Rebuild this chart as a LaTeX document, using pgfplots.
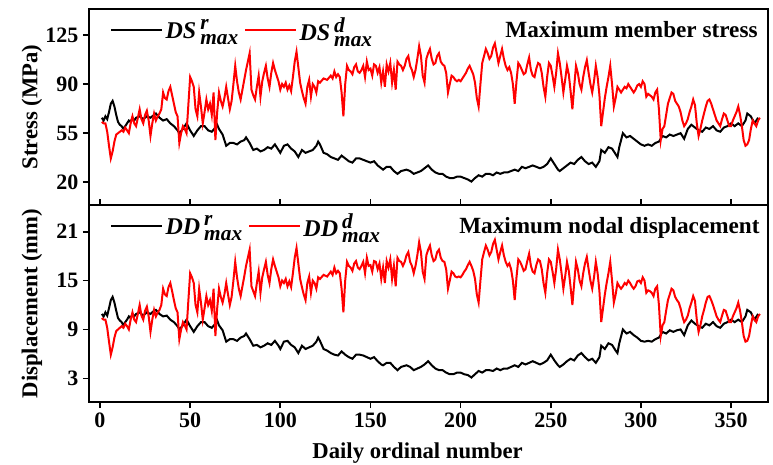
\documentclass[border=0pt]{standalone}
\usepackage{pgfplots}
\pgfplotsset{compat=1.18}
\usepackage{pgfplotstable}
\usepackage{amsmath}
\usepackage{fontspec}
\setmainfont{Liberation Serif}

% r-series: day, stress (MPa), displacement (mm)
\pgfplotstableread{
day s d
1 66 10.9
2 64 10.6
3 67 11.1
4 65 10.7
5 70 11.6
6 76 12.6
7 78 13.0
8 74 12.3
9 68 11.3
10 63 10.4
11 61 10.1
12 60 9.9
13 58 9.5
14 60 9.9
15 62 10.2
16 64 10.6
17 63 10.4
18 66 10.9
19 64 10.6
20 66 10.9
22 67 11.1
24 65 10.7
26 67 11.1
28 66 10.9
30 68 11.3
31 69 11.4
33 66 10.9
35 64 10.6
37 65 10.7
39 62 10.2
41 60 9.9
43 57 9.4
44 55 9.0
46 58 9.5
48 62 10.2
50 57 9.4
52 53 8.7
54 57 9.4
56 60 9.9
58 60 9.9
60 57 9.4
62 56 9.2
64 59 9.7
65 61 10.1
66 58 9.5
68 54 8.9
70 46 7.5
72 48 7.8
74 48 7.8
76 47 7.6
78 49 8.0
80 50 8.2
81 52 8.5
83 48 7.8
85 43 7.0
87 44 7.1
89 42 6.8
91 43 7.0
93 45 7.3
95 44 7.1
97 47 7.6
99 43 7.0
100 41 6.6
102 46 7.5
104 47 7.6
106 44 7.1
108 42 6.8
110 38 6.1
112 43 7.0
114 41 6.6
116 42 6.8
118 43 7.0
120 46 7.5
121 49 8.0
122 47 7.6
124 41 6.6
126 40 6.4
128 38 6.1
130 37 5.9
132 36 5.8
134 39 6.3
136 37 5.9
138 35 5.6
140 34 5.4
142 37 5.9
144 37 5.9
146 36 5.8
148 35 5.6
150 34 5.4
152 35 5.6
154 32 5.1
156 30 4.7
157 29 4.6
159 31 4.9
161 31 4.9
163 28 4.4
165 26 4.0
167 28 4.4
170 29 4.6
172 28 4.4
174 26 4.0
176 27 4.2
178 28 4.4
180 30 4.7
182 32 5.1
184 29 4.6
186 27 4.2
188 26 4.0
190 26 4.0
192 24 3.7
194 23 3.5
196 23 3.5
198 24 3.7
200 24 3.7
202 23 3.5
204 22 3.4
206 20.5 3.1
208 23 3.5
210 25 3.9
212 24 3.7
214 26 4.0
216 26 4.0
218 25 3.9
220 27 4.2
222 26 4.0
224 27 4.2
226 27 4.2
228 28 4.4
230 29 4.6
232 28 4.4
234 31 4.9
236 30 4.7
238 31 4.9
240 32 5.1
242 31 4.9
244 30 4.7
246 31 4.9
248 33 5.2
250 37 5.9
252 33 5.2
254 29 4.6
255 28 4.4
257 30 4.7
259 32 5.1
261 34 5.4
263 33 5.2
265 36 5.8
267 38 6.1
269 35 5.6
271 33 5.2
273 34 5.4
275 31 4.9
277 35 5.6
278 43 7.0
280 41 6.6
282 45 7.3
284 44 7.1
286 40 6.4
287 38 6.1
288 45 7.3
290 55 9.0
292 52 8.5
294 53 8.7
296 51 8.3
298 49 8.0
300 47 7.6
302 46 7.5
304 47 7.6
306 46 7.5
308 48 7.8
310 49 8.0
312 53 8.7
314 52 8.5
316 54 8.9
318 53 8.7
320 54 8.9
322 55 9.0
324 51 8.3
326 58 9.5
328 61 10.1
330 59 9.7
332 57 9.4
334 56 9.2
336 59 9.7
338 58 9.5
340 60 9.9
342 57 9.4
344 56 9.2
346 59 9.7
348 60 9.9
350 62 10.2
352 60 9.9
354 62 10.2
356 60 9.9
358 64 10.6
359 69 11.4
361 67 11.1
363 62 10.2
365 66 10.9
}\rtab

% d-series: day, stress (MPa), displacement (mm)
\pgfplotstableread{
day s d
1 63 10.4
2 62 10.2
3 62 10.2
4 56 9.2
5 46 7.5
6 37 5.9
7 42 6.8
8 49 8.0
9 54 8.8
10 55 9.0
11 56 9.2
12 57 9.4
13 56 9.2
14 59 9.7
15 57 9.4
16 55 9.0
17 62 10.2
18 67 11.1
19 62 10.2
20 60 9.9
21 66 10.9
22 72 12.0
23 65 10.7
24 62 10.2
25 68 11.3
26 71 11.8
27 64 10.6
28 53 8.7
29 62 10.2
30 69 11.4
31 64 10.6
32 67 11.1
33 69 11.4
34 72 12.0
35 84 14.0
36 80 13.3
37 79 13.1
38 85 14.2
39 88 14.7
40 82 13.7
41 76 12.6
42 70 11.6
43 67 11.1
44 48 7.8
45 55 9.0
46 60 9.9
47 58 9.5
48 55 9.0
49 75 12.5
50 95 15.9
51 92 15.4
52 88 14.7
53 72 12.0
54 67 11.1
55 84 14.0
56 74 12.3
57 62 10.2
58 70 11.6
59 79 13.1
60 72 12.0
61 76 12.6
62 68 11.3
63 84 14.0
64 50 8.2
65 70 11.6
66 84 14.0
67 78 13.0
68 74 12.3
69 80 13.3
70 88 14.7
71 80 13.3
72 72 12.0
73 78 13.0
74 90 15.0
75 103 17.3
76 92 15.4
77 84 14.0
78 79 13.1
79 86 14.3
80 93 15.5
81 100 16.8
82 106 17.8
83 112 18.8
84 86 14.3
85 82 13.7
86 79 13.1
87 88 14.7
88 96 16.1
89 81 13.5
90 92 15.4
91 98 16.4
92 103 17.3
93 94 15.7
94 88 14.7
95 98 16.4
96 105 17.6
97 100 16.8
98 96 16.1
99 92 15.4
100 86 14.3
101 90 15.0
102 88 14.7
103 91 15.2
104 86 14.3
105 89 14.9
106 85 14.2
107 95 15.9
108 106 17.8
109 113 19.0
110 102 17.1
111 91 15.2
112 85 14.2
113 80 13.3
114 76 12.6
115 88 14.7
116 93 15.5
117 81 13.5
118 90 15.0
119 88 14.7
120 84 14.0
121 92 15.4
122 91 15.2
124 94 15.7
126 93 15.5
128 96 16.1
129 94 15.7
130 99 16.6
131 95 15.9
132 97 16.2
133 95 15.9
134 84 14.0
135 67 11.1
136 90 15.0
137 103 17.3
138 100 16.8
139 99 16.6
140 97 16.2
141 102 17.1
142 104 17.4
143 99 16.6
144 98 16.4
145 100 16.8
146 103 17.3
147 95 15.9
148 106 17.8
149 100 16.8
150 101 16.9
151 96 16.1
152 104 17.4
153 103 17.3
154 98 16.4
155 102 17.1
156 91 15.2
157 99 16.6
158 88 14.7
159 104 17.4
160 99 16.6
161 105 17.6
162 91 15.2
163 100 16.8
164 86 14.3
165 106 17.8
166 104 17.4
167 103 17.3
168 100 16.8
169 103 17.3
170 108 18.1
171 110 18.5
172 103 17.3
173 100 16.8
174 95 15.9
175 100 16.8
176 108 18.1
177 117 19.7
178 110 18.5
179 96 16.1
180 91 15.2
181 108 18.1
182 112 18.8
183 115 19.3
184 108 18.1
185 104 17.4
186 105 17.6
187 110 18.5
188 112 18.8
189 106 17.8
190 104 17.4
191 103 17.3
192 98 16.4
193 84 14.0
194 90 15.0
195 96 16.1
196 95 15.9
197 93 15.5
198 92 15.4
199 93 15.5
200 92 15.4
201 94 15.7
202 96 16.1
203 98 16.4
204 101 16.9
205 103 17.3
206 100 16.8
207 97 16.2
208 91 15.2
209 80 13.3
210 74 12.3
211 90 15.0
212 105 17.6
213 110 18.5
214 115 19.3
215 112 18.8
216 108 18.1
217 110 18.5
218 116 19.5
219 119 20.0
220 112 18.8
221 105 17.6
222 110 18.5
223 115 19.3
224 108 18.1
225 103 17.3
226 100 16.8
227 102 17.1
228 98 16.4
229 90 15.0
230 76 12.6
231 92 15.4
232 105 17.6
233 103 17.3
234 100 16.8
235 97 16.2
236 98 16.4
237 104 17.4
238 109 18.3
239 100 16.8
240 96 16.1
241 95 15.9
242 101 16.9
243 105 17.6
244 104 17.4
245 98 16.4
246 88 14.7
247 81 13.5
248 95 15.9
249 105 17.6
250 103 17.3
251 96 16.1
252 88 14.7
253 98 16.4
254 112 18.8
255 105 17.6
256 95 15.9
257 84 14.0
258 93 15.5
259 103 17.3
260 97 16.2
261 85 14.2
262 72 12.0
263 88 14.7
264 103 17.3
265 98 16.4
266 90 15.0
267 86 14.3
268 95 15.9
269 102 17.1
270 107 17.9
271 98 16.4
272 90 15.0
273 84 14.0
274 92 15.4
275 103 17.3
276 95 15.9
277 82 13.7
278 60 9.9
279 70 11.6
280 80 13.3
281 88 14.7
282 95 15.9
283 103 17.3
284 90 15.0
285 74 12.3
286 80 13.3
287 88 14.7
288 86 14.3
289 84 14.0
290 86 14.3
291 88 14.7
292 87 14.5
293 90 15.0
294 88 14.7
295 86 14.3
296 84 14.0
297 86 14.3
298 89 14.9
299 90 15.0
300 88 14.7
301 92 15.4
302 90 15.0
303 81 13.5
304 83 13.8
305 82 13.7
306 81 13.5
307 79 13.1
308 84 14.0
309 86 14.3
310 72 12.0
311 50 8.2
312 58 9.5
313 60 9.9
314 68 11.3
315 76 12.6
316 80 13.3
317 84 14.0
318 83 13.8
319 78 13.0
320 76 12.6
321 74 12.3
322 70 11.6
323 64 10.6
324 60 9.9
325 62 10.2
326 65 10.7
327 70 11.6
328 74 12.3
329 79 13.1
330 75 12.5
331 62 10.2
332 53 8.7
333 58 9.5
334 64 10.6
335 69 11.4
336 74 12.3
337 78 13.0
338 79 13.1
339 76 12.6
340 72 12.0
341 68 11.3
342 64 10.6
343 62 10.2
344 60 9.9
345 65 10.7
346 69 11.4
347 68 11.3
348 64 10.6
349 60 9.9
350 60 9.9
351 64 10.6
352 67 11.1
353 70 11.6
354 74 12.3
355 68 11.3
356 60 9.9
357 50 8.2
358 46 7.5
359 47 7.6
360 50 8.2
361 58 9.5
362 64 10.6
363 62 10.2
364 60 9.9
365 64 10.6
366 66 10.9
}\dtab

\pgfplotsset{
  panel/.style={
    scale only axis,
    width=509.25pt,
    xmin=-6.1, xmax=370.5,
    tick align=outside,
    ytick pos=left,
    major tick length=4.5pt,
    axis line style={line width=1.2pt},
    every tick/.style={line width=1.2pt, black},
    tick label style={font=\fontsize{16.5}{18}\selectfont\bfseries},
    /pgf/number format/assume math mode=true,
    label style={font=\fontsize{17}{19}\selectfont\bfseries},
    ylabel style={at={(axis description cs:-0.084,0.5)}, anchor=center},
    legend style={draw=none, fill=none, font=\fontsize{18}{20}\selectfont,
      at={(axis description cs:0.025,0.985)}, anchor=north west,
      /tikz/every even column/.append style={column sep=2pt}},
    legend columns=2,
    legend image code/.code={\draw[#1] (0pt,0pt) -- (38pt,0pt);},
    every axis plot/.append style={line width=1.5pt},
  },
}

% legend label: bold italic name with stacked super- and subscript
\newcommand{\leg}[2]{\textbf{\textit{#1}}\,$^{\text{\fontsize{16}{16}\selectfont\bfseries\itshape #2}}_{\text{\fontsize{16}{16}\selectfont\bfseries\itshape max}}$}

\begin{document}
\begin{tikzpicture}
\begin{axis}[panel,
    at={(0pt,147.75pt)}, anchor=south west,
    height=147pt,
    ymin=3.8, ymax=143.5,
    ytick={20,55,90,125},
    xtick=\empty,
    ylabel={Stress (MPa)},
]
\addplot[black] table[x=day, y=s] {\rtab};
\addlegendentry{\leg{DS}{r}}
\addplot[red] table[x=day, y=s] {\dtab};
\addlegendentry{\leg{DS}{d}}
\node[anchor=north east, inner sep=0pt, font=\fontsize{17.4}{19}\selectfont\bfseries]
  at (rel axis cs:0.985,0.94) {Maximum member stress};
\end{axis}

\begin{axis}[panel,
    at={(0pt,0pt)}, anchor=south west,
    height=147.75pt,
    ymin=0.09, ymax=24.28,
    ytick={3,9,15,21},
    xtick={0,50,...,350},
    xtick pos=both,
    ylabel={Displacement (mm)},
    xlabel={Daily ordinal number},
    xlabel style={at={(axis description cs:0.484,0)}, anchor=center, yshift=-38.25pt},
]
\addplot[black] table[x=day, y=d] {\rtab};
\addlegendentry{\leg{DD}{r}}
\addplot[red] table[x=day, y=d] {\dtab};
\addlegendentry{\leg{DD}{d}}
\node[anchor=north east, inner sep=0pt, font=\fontsize{17.4}{19}\selectfont\bfseries]
  at (rel axis cs:0.988,0.94) {Maximum nodal displacement};
\end{axis}

\pgfresetboundingbox
\path (-66.75pt,-46.5pt) rectangle (513pt,301.5pt);
\end{tikzpicture}
\end{document}
